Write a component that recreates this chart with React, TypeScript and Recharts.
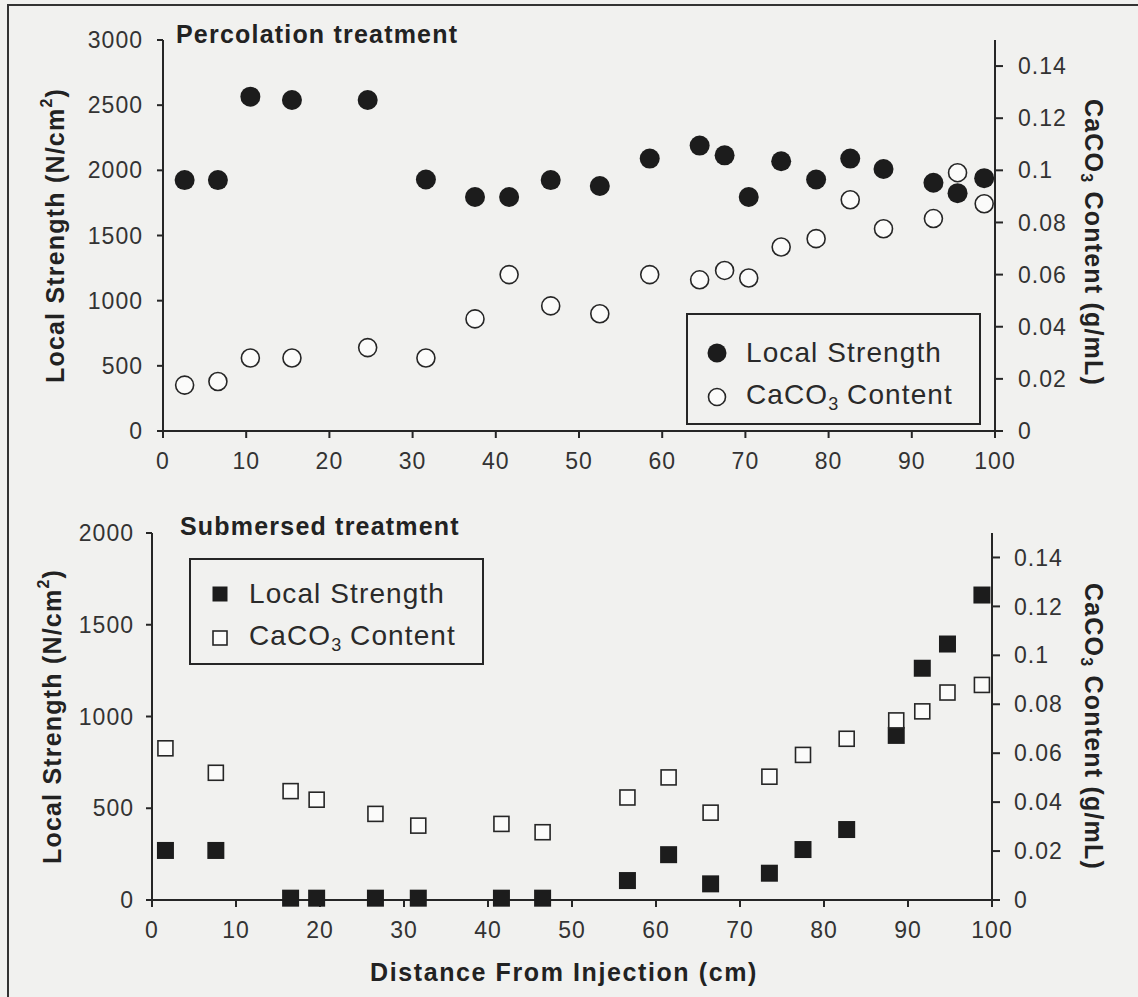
import { ScatterChart, Scatter, XAxis, YAxis, Legend, Label } from 'recharts';

const distanceTicks = [0, 10, 20, 30, 40, 50, 60, 70, 80, 90, 100];
const percStrengthTicks = [0, 500, 1000, 1500, 2000, 2500, 3000];
const subStrengthTicks = [0, 500, 1000, 1500, 2000];
const caco3Ticks = [0, 0.02, 0.04, 0.06, 0.08, 0.1, 0.12, 0.14];

// Percolation treatment (top panel)
const percDistance = [2.6, 6.6, 10.5, 15.5, 24.6, 31.6, 37.5, 41.6, 46.6, 52.5, 58.5, 64.5, 67.5, 70.4, 74.3, 78.5, 82.6, 86.6, 92.6, 95.5, 98.7];
const percStrength = [1925, 1925, 2565, 2540, 2540, 1930, 1795, 1795, 1925, 1880, 2090, 2190, 2115, 1795, 2070, 1930, 2090, 2010, 1905, 1825, 1940];
const percCaco3 = [0.0176, 0.019, 0.028, 0.028, 0.032, 0.028, 0.043, 0.06, 0.048, 0.045, 0.06, 0.058, 0.0616, 0.0587, 0.0706, 0.0738, 0.0887, 0.0776, 0.0815, 0.0991, 0.0872];

// Submersed treatment (bottom panel)
const subDistance = [1.6, 7.6, 16.5, 19.6, 26.6, 31.7, 41.6, 46.5, 56.6, 61.5, 66.5, 73.5, 77.5, 82.7, 88.6, 91.7, 94.7, 98.8];
const subStrength = [270, 270, 10, 10, 10, 10, 10, 10, 106, 247, 88, 146, 275, 384, 897, 1263, 1395, 1662];
const subCaco3 = [0.062, 0.052, 0.0445, 0.041, 0.0352, 0.0304, 0.0311, 0.0277, 0.0419, 0.0501, 0.0357, 0.0504, 0.0593, 0.0659, 0.0734, 0.0771, 0.0848, 0.0879];

const FONT = 'Liberation Sans, Arial, Helvetica, sans-serif';
const INK = '#1c1c1c';
const AXIS = '#262626';
const BG = '#f1f1ef';

const toPoints = (xs: number[], ys: number[]) => xs.map((x, i) => ({ x, y: ys[i] }));

const tickStyle = { fill: '#333', fontSize: 23, fontFamily: FONT, letterSpacing: 1 };
const lineStyle = { stroke: AXIS, strokeWidth: 2 };

const FilledCircle = (p: any) => <circle cx={p.cx} cy={p.cy} r={10} fill={INK} />;
const OpenCircle = (p: any) => (
  <circle cx={p.cx} cy={p.cy} r={9} fill="#fbfbfa" stroke={AXIS} strokeWidth={1.6} />
);
const FilledSquare = (p: any) => <rect x={p.cx - 8.5} y={p.cy - 8.5} width={17} height={17} fill={INK} />;
const OpenSquare = (p: any) => (
  <rect x={p.cx - 7.5} y={p.cy - 7.5} width={15} height={15} fill="#fbfbfa" stroke={AXIS} strokeWidth={1.6} />
);

const titleText = { fontFamily: FONT, fontWeight: 700, fontSize: 25, letterSpacing: 1.2, fill: '#222' };
const panelTitle = { fontFamily: FONT, fontWeight: 700, fontSize: 25, letterSpacing: 1.2, lineHeight: '25px', color: '#222' };

// rotated axis titles, drawn from the axis viewBox
const strengthTitle = (x: number) => (props: any) => {
  const vb = props.viewBox;
  const cy = vb.y + vb.height / 2;
  return (
    <text x={x} y={cy} transform={`rotate(-90 ${x} ${cy})`} textAnchor="middle" dominantBaseline="central" {...titleText}>
      Local Strength (N/cm<tspan dy={-9} fontSize={16}>2</tspan>
      <tspan dy={9}>)</tspan>
    </text>
  );
};

const caco3Title = (x: number, shift: number) => (props: any) => {
  const vb = props.viewBox;
  const cy = vb.y + vb.height / 2 + shift;
  return (
    <text x={x} y={cy} transform={`rotate(90 ${x} ${cy})`} textAnchor="middle" dominantBaseline="central" {...titleText}>
      CaCO<tspan dy={7} fontSize={16}>3</tspan>
      <tspan dy={-7}> Content (g/mL)</tspan>
    </text>
  );
};

const distanceTitle = (props: any) => {
  const vb = props.viewBox;
  return (
    <text x={vb.x + vb.width / 2 - 8} y={vb.y + 72} textAnchor="middle" dominantBaseline="central" {...titleText} letterSpacing={1.6}>
      Distance From Injection (cm)
    </text>
  );
};

function PanelLegend({ rows, padTop }: { rows: { marker: any; label: any }[]; padTop: number }) {
  return (
    <div
      style={{
        width: '100%',
        height: '100%',
        boxSizing: 'border-box',
        border: `2.5px solid ${AXIS}`,
        paddingTop: padTop,
        fontFamily: FONT,
        fontSize: 28,
        letterSpacing: 1.1,
        color: '#2a2a2a'
      }}
    >
      {rows.map((r, i) => (
        <div key={i} style={{ display: 'flex', alignItems: 'center', height: 44 }}>
          <div style={{ width: 58, display: 'flex', justifyContent: 'center' }}>{r.marker}</div>
          <div>{r.label}</div>
        </div>
      ))}
    </div>
  );
}

const caco3Label = (
  <span>
    CaCO<sub style={{ fontSize: 18, verticalAlign: -6, letterSpacing: 0 }}>3</sub> Content
  </span>
);

export default function App() {
  const percStrengthPts = toPoints(percDistance, percStrength);
  const percCaco3Pts = toPoints(percDistance, percCaco3);
  const subStrengthPts = toPoints(subDistance, subStrength);
  const subCaco3Pts = toPoints(subDistance, subCaco3);

  return (
    <div style={{ position: 'relative', width: 1138, height: 997, background: BG, overflow: 'hidden' }}>
      <style>{'body{margin:0}'}</style>
      {/* figure frame */}
      <div
        style={{
          position: 'absolute',
          left: 7,
          top: 4,
          right: -10,
          bottom: -10,
          borderTop: `2px solid #333`,
          borderLeft: `2px solid #333`
        }}
      />

      {/* Percolation panel */}
      <div style={{ position: 'absolute', left: 0, top: 0 }}>
        <ScatterChart width={1138} height={495} margin={{ top: 40, right: 0, bottom: 24, left: 0 }}>
          <XAxis
            type="number"
            dataKey="x"
            domain={[0, 100]}
            ticks={distanceTicks}
            height={40}
            tick={tickStyle}
            tickSize={7}
            tickMargin={15}
            axisLine={lineStyle}
            tickLine={lineStyle}
          />
          <YAxis
            yAxisId="left"
            type="number"
            dataKey="y"
            domain={[0, 3000]}
            ticks={percStrengthTicks}
            width={163}
            tick={tickStyle}
            tickSize={6}
            tickMargin={14}
            axisLine={lineStyle}
            tickLine={lineStyle}
          >
            <Label content={strengthTitle(55)} />
          </YAxis>
          <YAxis
            yAxisId="right"
            orientation="right"
            type="number"
            dataKey="y"
            domain={[0, 0.15]}
            ticks={caco3Ticks}
            width={143}
            tick={tickStyle}
            tickSize={8}
            tickMargin={15}
            axisLine={lineStyle}
            tickLine={lineStyle}
          >
            <Label content={caco3Title(1094, 7)} />
          </YAxis>
          <Legend
            layout="horizontal"
            verticalAlign="middle"
            align="center"
            wrapperStyle={{ left: 686, top: 313, width: 295, height: 112 }}
            content={() => (
              <PanelLegend
                padTop={16}
                rows={[
                  { marker: <svg width={22} height={22}><circle cx={11} cy={11} r={9.5} fill={INK} /></svg>, label: 'Local Strength' },
                  {
                    marker: (
                      <svg width={22} height={22}>
                        <circle cx={11} cy={11} r={8.5} fill="#fbfbfa" stroke={AXIS} strokeWidth={1.6} />
                      </svg>
                    ),
                    label: caco3Label
                  }
                ]}
              />
            )}
          />
          <Scatter yAxisId="right" name="CaCO3 Content" data={percCaco3Pts} shape={OpenCircle} isAnimationActive={false} />
          <Scatter yAxisId="left" name="Local Strength" data={percStrengthPts} shape={FilledCircle} isAnimationActive={false} />
        </ScatterChart>
      </div>
      <div style={{ position: 'absolute', left: 176, top: 22, ...panelTitle }}>Percolation treatment</div>

      {/* Submersed panel */}
      <div style={{ position: 'absolute', left: 0, top: 480 }}>
        <ScatterChart width={1138} height={517} margin={{ top: 53, right: 0, bottom: 57, left: 0 }}>
          <XAxis
            type="number"
            dataKey="x"
            domain={[0, 100]}
            ticks={distanceTicks}
            height={40}
            tick={tickStyle}
            tickSize={7}
            tickMargin={15}
            axisLine={lineStyle}
            tickLine={lineStyle}
          >
            <Label content={distanceTitle} />
          </XAxis>
          <YAxis
            yAxisId="left"
            type="number"
            dataKey="y"
            domain={[0, 2000]}
            ticks={subStrengthTicks}
            width={152}
            tick={tickStyle}
            tickSize={6}
            tickMargin={12}
            axisLine={lineStyle}
            tickLine={lineStyle}
          >
            <Label content={strengthTitle(52)} />
          </YAxis>
          <YAxis
            yAxisId="right"
            orientation="right"
            type="number"
            dataKey="y"
            domain={[0, 0.15]}
            ticks={caco3Ticks}
            width={146}
            tick={tickStyle}
            tickSize={8}
            tickMargin={14}
            axisLine={lineStyle}
            tickLine={lineStyle}
          >
            <Label content={caco3Title(1094, 10)} />
          </YAxis>
          <Legend
            layout="horizontal"
            verticalAlign="middle"
            align="center"
            wrapperStyle={{ left: 189, top: 78, width: 295, height: 107 }}
            content={() => (
              <PanelLegend
                padTop={12}
                rows={[
                  { marker: <svg width={18} height={18}><rect x={1.5} y={1.5} width={15} height={15} fill={INK} /></svg>, label: 'Local Strength' },
                  {
                    marker: (
                      <svg width={18} height={18}>
                        <rect x={2} y={2} width={14} height={14} fill="#fbfbfa" stroke={AXIS} strokeWidth={1.6} />
                      </svg>
                    ),
                    label: caco3Label
                  }
                ]}
              />
            )}
          />
          <Scatter yAxisId="left" name="Local Strength" data={subStrengthPts} shape={FilledSquare} isAnimationActive={false} />
          <Scatter yAxisId="right" name="CaCO3 Content" data={subCaco3Pts} shape={OpenSquare} isAnimationActive={false} />
        </ScatterChart>
      </div>
      <div style={{ position: 'absolute', left: 180, top: 514, ...panelTitle }}>Submersed treatment</div>
    </div>
  );
}
